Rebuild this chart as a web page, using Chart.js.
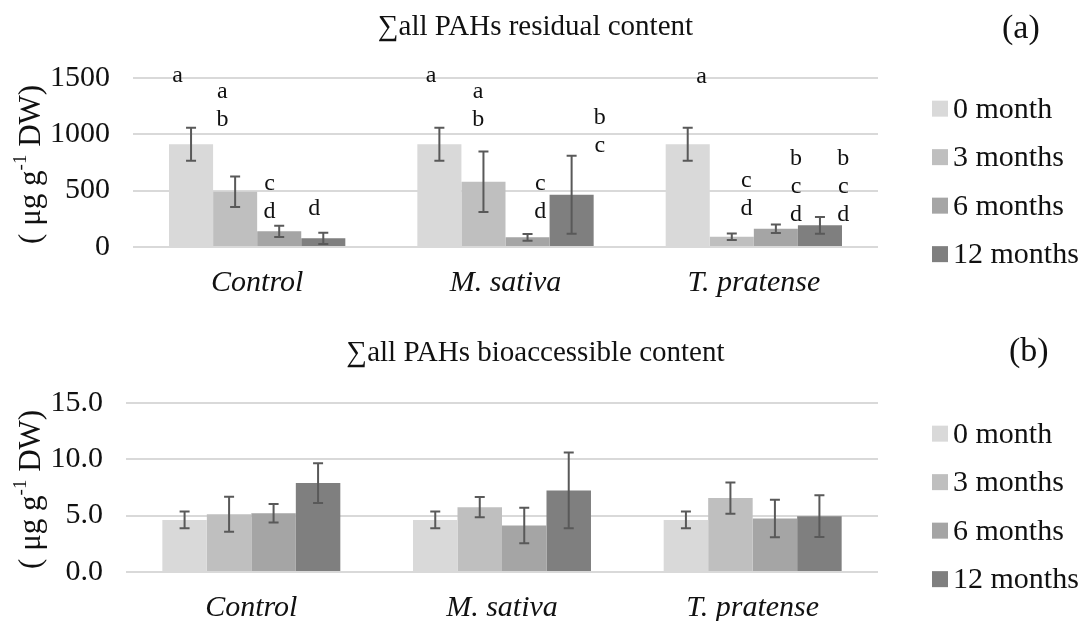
<!DOCTYPE html>
<html>
<head>
<meta charset="utf-8">
<script src="https://cdn.jsdelivr.net/npm/chart.js@4.4.1/dist/chart.umd.min.js"></script>
<style>
  html, body { margin: 0; padding: 0; background: #fff; }
  #page { position: relative; width: 1081px; height: 621px; overflow: hidden; }
  .box { position: absolute; left: 0; width: 1081px; }
  .tag { position: absolute; font-family: "Liberation Serif", serif; font-size: 34px; color: #111; }
</style>
</head>
<body>
<div id="page">
  <div class="box" style="top:0;height:310px"><canvas id="chartA"></canvas></div>
  <div class="box" style="top:310px;height:311px"><canvas id="chartB"></canvas></div>
  <div class="tag" style="left:1002px;top:8px">(a)</div>
  <div class="tag" style="left:1009px;top:331px">(b)</div>
</div>
<script>
const categories = ["Control", "M. sativa", "T. pratense"];
const seriesNames = ["0 month", "3 months", "6 months", "12 months"];
const seriesColors = ["#d9d9d9", "#bfbfbf", "#a5a5a5", "#7f7f7f"];

// (a) residual content, µg/g DW
const resid0 = [911, 911, 911];
const resid3 = [489, 578, 91];
const resid6 = [139, 86, 162];
const resid12 = [77, 463, 192];
const residErr0 = [146, 146, 146];
const residErr3 = [135, 268, 28];
const residErr6 = [50, 30, 37];
const residErr12 = [50, 345, 75];
const residTicks = [0, 500, 1000, 1500];

// letters over the bars of (a): per series, per category
const residLetters = [
  ["a", "a", "a"],
  ["ab", "ab", "cd"],
  ["cd", "cd", "bcd"],
  ["d", "bc", "bcd"]
];
// where the first letter sits: category-axis value and y value
const residLetterX = [
  [-0.32, 0.70, 1.79],
  [-0.14, 0.89, 1.97],
  [0.05, 1.14, 2.17],
  [0.23, 1.38, 2.36]
];
const residLetterY = [
  [1522, 1522, 1513],
  [1381, 1381, 584],
  [558, 558, 779],
  [336, 1150, 779]
];

// (b) bioaccessible content, µg/g DW
const bio0 = [4.62, 4.62, 4.62];
const bio3 = [5.12, 5.75, 6.55];
const bio6 = [5.21, 4.12, 4.74];
const bio12 = [7.88, 7.23, 4.95];
const bioErr0 = [0.74, 0.74, 0.74];
const bioErr3 = [1.55, 0.89, 1.38];
const bioErr6 = [0.82, 1.57, 1.67];
const bioErr12 = [1.76, 3.36, 1.85];
const bioTicks = [0, 5, 10, 15];

const FONT = "Liberation Serif";
const INK = "#111";

const errorBars = {
  id: "errorBars",
  afterDatasetsDraw(chart) {
    const ctx = chart.ctx;
    const y = chart.scales.y;
    ctx.save();
    ctx.strokeStyle = "#595959";
    ctx.lineWidth = 2;
    chart.data.datasets.forEach((ds, i) => {
      chart.getDatasetMeta(i).data.forEach((bar, j) => {
        const top = y.getPixelForValue(ds.data[j] + ds.err[j]);
        const bot = y.getPixelForValue(ds.data[j] - ds.err[j]);
        ctx.beginPath();
        ctx.moveTo(bar.x, top); ctx.lineTo(bar.x, bot);
        ctx.moveTo(bar.x - 5, top); ctx.lineTo(bar.x + 5, top);
        ctx.moveTo(bar.x - 5, bot); ctx.lineTo(bar.x + 5, bot);
        ctx.stroke();
      });
    });
    ctx.restore();
  }
};

const letterMarks = {
  id: "letterMarks",
  afterDatasetsDraw(chart, args, opts) {
    if (!opts.letters) return;
    const ctx = chart.ctx;
    const { x, y } = chart.scales;
    ctx.save();
    ctx.fillStyle = INK;
    ctx.font = "24px " + FONT;
    ctx.textAlign = "center";
    ctx.textBaseline = "middle";
    opts.letters.forEach((row, s) => {
      row.forEach((txt, c) => {
        const px = x.getPixelForValue(opts.xs[s][c]);
        const py = y.getPixelForValue(opts.ys[s][c]);
        txt.split("").forEach((ch, k) => ctx.fillText(ch, px, py + k * 28));
      });
    });
    ctx.restore();
  }
};

const sideLegend = {
  id: "sideLegend",
  afterDraw(chart) {
    const ctx = chart.ctx;
    const area = chart.chartArea;
    const mid = (area.top + area.bottom) / 2 + 19;
    ctx.save();
    ctx.font = "30px " + FONT;
    ctx.textBaseline = "middle";
    chart.data.datasets.forEach((ds, i) => {
      const cy = mid + (i - 1.5) * 48.5;
      ctx.fillStyle = ds.backgroundColor;
      ctx.fillRect(area.right + 54, cy - 8, 16, 16);
      ctx.fillStyle = INK;
      ctx.fillText(ds.label, area.right + 75, cy + 1);
    });
    ctx.restore();
  }
};

const unitTitle = {
  id: "unitTitle",
  afterDraw(chart) {
    const ctx = chart.ctx;
    const area = chart.chartArea;
    const parts = [["( μg g", 31, 0], ["-1", 19, -11], [" DW)", 31, 0]];
    ctx.save();
    ctx.translate(32, (area.top + area.bottom) / 2 + 2);
    ctx.rotate(-Math.PI / 2);
    ctx.fillStyle = INK;
    ctx.textBaseline = "middle";
    let total = 0;
    parts.forEach(p => { ctx.font = p[1] + "px " + FONT; total += ctx.measureText(p[0]).width; });
    let cx = -total / 2;
    parts.forEach(p => {
      ctx.font = p[1] + "px " + FONT;
      ctx.fillText(p[0], cx, p[2]);
      cx += ctx.measureText(p[0]).width;
    });
    ctx.restore();
  }
};

function makeDatasets(values, errs) {
  return seriesNames.map((name, i) => ({
    label: name,
    data: values[i],
    err: errs[i],
    backgroundColor: seriesColors[i],
    borderWidth: 0,
    categoryPercentage: 0.71,
    barPercentage: 1.0
  }));
}

function makeChart(id, cfg) {
  return new Chart(document.getElementById(id), {
    type: "bar",
    data: { labels: categories, datasets: makeDatasets(cfg.values, cfg.errs) },
    plugins: [errorBars, letterMarks, sideLegend, unitTitle],
    options: {
      responsive: true,
      maintainAspectRatio: false,
      animation: false,
      layout: { padding: { left: 0, right: 10, top: 0, bottom: 0 } },
      plugins: {
        legend: { display: false },
        tooltip: { enabled: false },
        title: {
          display: true,
          text: cfg.title,
          color: INK,
          font: { family: FONT, size: 29, weight: "normal" },
          padding: cfg.titlePad
        },
        letterMarks: cfg.letterOpts || {}
      },
      scales: {
        x: {
          grid: { display: false, drawTicks: false },
          border: { display: false },
          ticks: { color: INK, padding: 18, font: { family: FONT, size: 30, style: "italic" } },
          afterFit: s => { s.height = cfg.xHeight; }
        },
        y: {
          min: cfg.ticks[0],
          max: cfg.ticks[cfg.ticks.length - 1],
          afterBuildTicks: s => { s.ticks = cfg.ticks.map(v => ({ value: v })); },
          grid: { color: "#d9d9d9", lineWidth: 2, drawTicks: false },
          border: { display: false },
          ticks: {
            color: INK,
            padding: 23,
            font: { family: FONT, size: 30 },
            callback: cfg.fmt
          },
          afterFit: s => { s.width = cfg.yWidth; }
        },
        // empty axis that keeps room for the legend on the right
        side: {
          position: "right",
          grid: { display: false, drawTicks: false },
          border: { display: false },
          ticks: { display: false },
          afterFit: s => { s.width = 193; }
        }
      }
    }
  });
}

makeChart("chartA", {
  title: "∑all PAHs residual content",
  titlePad: { top: 10, bottom: 33 },
  values: [resid0, resid3, resid6, resid12],
  errs: [residErr0, residErr3, residErr6, residErr12],
  ticks: residTicks,
  fmt: v => String(v),
  xHeight: 63,
  yWidth: 133,
  letterOpts: { letters: residLetters, xs: residLetterX, ys: residLetterY }
});

makeChart("chartB", {
  title: "∑all PAHs bioaccessible content",
  titlePad: { top: 26, bottom: 32 },
  values: [bio0, bio3, bio6, bio12],
  errs: [bioErr0, bioErr3, bioErr6, bioErr12],
  ticks: bioTicks,
  fmt: v => v.toFixed(1),
  xHeight: 49,
  yWidth: 126
});
</script>
</body>
</html>
